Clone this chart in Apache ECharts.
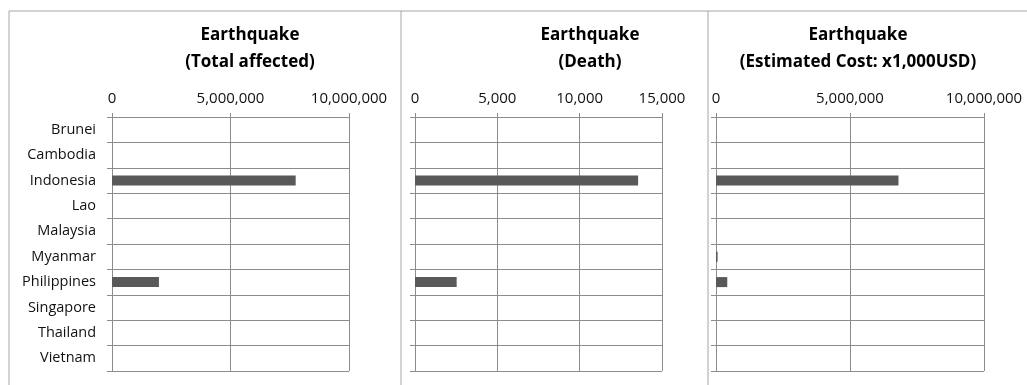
<!DOCTYPE html>
<html>
<head>
<meta charset="utf-8">
<script src="https://cdn.jsdelivr.net/npm/echarts@6/dist/echarts.min.js"></script>
<style>
  html, body { margin: 0; padding: 0; background: #fff; }
  #main { width: 1027px; height: 385px; }
</style>
</head>
<body>
<div id="main"></div>
<script>
var countries = ['Brunei', 'Cambodia', 'Indonesia', 'Lao', 'Malaysia', 'Myanmar', 'Philippines', 'Singapore', 'Thailand', 'Vietnam'];
var totalAffected = [0, 0, 7750000, 0, 0, 0, 1980000, 0, 0, 0];
var deaths = [0, 0, 13550, 0, 0, 0, 2530, 0, 0, 0];
var estimatedCost = [0, 0, 6810000, 0, 0, 60000, 420000, 0, 0, 0];
var titles = ['Earthquake\n(Total affected)', 'Earthquake\n(Death)', 'Earthquake\n(Estimated Cost: x1,000USD)'];

var chart = echarts.init(document.getElementById('main'));
var FONT = '"Open Sans", sans-serif';
var lineColor = '#8c8c8c';

function fmt(v) {
    return v.toLocaleString('en-US');
}

// three panels side by side
var grids = [
    { left: 112, width: 237, top: 117, bottom: 14 },
    { left: 415, width: 247, top: 117, bottom: 14 },
    { left: 716, width: 268, top: 117, bottom: 14 }
];
var maxes = [10000000, 15000, 10000000];
var intervals = [5000000, 5000, 5000000];
var titleX = [245, 585, 853];
var seriesData = [totalAffected, deaths, estimatedCost];

var option = {
    backgroundColor: '#fff',
    animation: false,
    title: titles.map(function (t, i) {
        return {
            text: t,
            left: titleX[i],
            top: 17,
            textAlign: 'center',
            textStyle: { fontFamily: FONT, fontSize: 17, fontWeight: 'bold', color: '#000', lineHeight: 27 }
        };
    }),
    grid: grids,
    xAxis: grids.map(function (g, i) {
        return {
            type: 'value',
            gridIndex: i,
            position: 'top',
            min: 0,
            max: maxes[i],
            interval: intervals[i],
            axisLine: { show: true, lineStyle: { color: lineColor } },
            axisTick: { show: true, length: 4, lineStyle: { color: lineColor } },
            splitLine: { show: true, lineStyle: { color: lineColor } },
            axisLabel: { fontFamily: FONT, fontSize: 15, color: '#111', margin: 11, formatter: fmt }
        };
    }),
    yAxis: grids.map(function (g, i) {
        return {
            type: 'category',
            gridIndex: i,
            data: countries,
            inverse: true,
            axisLine: { show: true, lineStyle: { color: lineColor } },
            axisTick: { show: true, length: 5, lineStyle: { color: lineColor } },
            splitLine: { show: true, lineStyle: { color: lineColor } },
            axisLabel: { show: i === 0, fontFamily: FONT, fontSize: 14.5, color: '#111', margin: 16 }
        };
    }),
    series: seriesData.map(function (d, i) {
        return {
            type: 'bar',
            xAxisIndex: i,
            yAxisIndex: i,
            data: d,
            barWidth: 10,
            itemStyle: { color: '#595959' }
        };
    }),
    graphic: [
        { type: 'line', shape: { x1: 9, y1: 11, x2: 1027, y2: 11 }, style: { stroke: '#a6a6a6', lineWidth: 1 } },
        { type: 'line', shape: { x1: 9, y1: 11, x2: 9, y2: 385 }, style: { stroke: '#a6a6a6', lineWidth: 1 } },
        { type: 'line', shape: { x1: 401, y1: 11, x2: 401, y2: 385 }, style: { stroke: '#a6a6a6', lineWidth: 1 } },
        { type: 'line', shape: { x1: 708, y1: 11, x2: 708, y2: 385 }, style: { stroke: '#a6a6a6', lineWidth: 1 } }
    ]
};

chart.setOption(option);
window.addEventListener('resize', function () {
    chart.resize();
});
</script>
</body>
</html>
